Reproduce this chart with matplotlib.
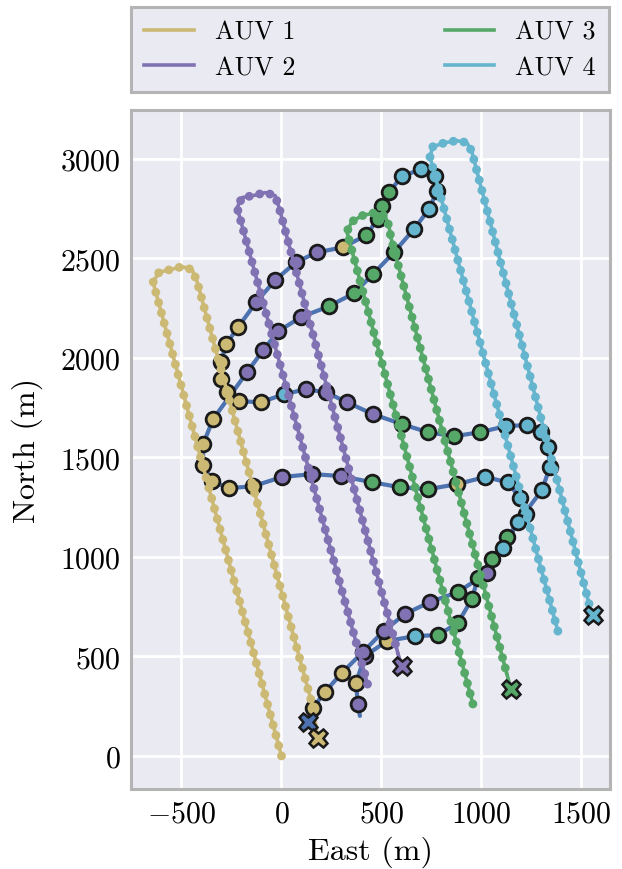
import matplotlib
matplotlib.use("Agg")
import matplotlib.pyplot as plt
from matplotlib.lines import Line2D

plt.rcParams["font.family"] = "serif"
plt.rcParams["font.serif"] = ["cmr10"]
plt.rcParams["mathtext.fontset"] = "cm"
plt.rcParams["axes.formatter.use_mathtext"] = True

# seaborn "deep" colours
BG = "#EAEAF2"
EDGE = "#B4B4B4"
SHIP = "#4C72B0"
auv_colors = ["#CCB974", "#8172B3", "#55A868", "#64B5CD"]
auv_names = ["AUV 1", "AUV 2", "AUV 3", "AUV 4"]

# AUV tracks (east, north in m): up leg, turn, down leg
auv1_e = [0, -642, -612, -557, -497, -447, -422, 157]
auv1_n = [0, 2380, 2430, 2443, 2458, 2443, 2383, 246]
auv2_e = [430, -222, -197, -142, -82, -32, -12, 583]
auv2_n = [361, 2755, 2805, 2815, 2830, 2815, 2755, 512]
auv3_e = [957, 327, 352, 402, 467, 517, 537, 547, 1127]
auv3_n = [261, 2634, 2684, 2714, 2729, 2714, 2664, 2604, 411]
auv4_e = [1382, 742, 757, 817, 877, 927, 952, 962, 1542]
auv4_n = [627, 3011, 3061, 3081, 3091, 3081, 3036, 2996, 748]
tracks_e = [auv1_e, auv2_e, auv3_e, auv4_e]
tracks_n = [auv1_n, auv2_n, auv3_n, auv4_n]

# final AUV positions
end_e = [182, 602, 1147, 1557]
end_n = [90, 452, 336, 708]

# surface vessel route; ping = AUV heard at that point (0 = none)
ship_e = [392, 382, 372, 417, 527, 667, 782, 882, 952, 982, 1052, 1127, 1222,
          1192, 1132, 1017, 877, 732, 592, 452, 297, 152, 2, -142, -262, -347,
          -392, -392, -342, -172, -92, -17, 97, 237, 362, 457, 562, 662, 737,
          777, 767, 697, 602, 537, 502, 482, 422, 307, 177, 72, -32, -127,
          -217, -277, -302, -302, -272, -212, -102, 12, 122, 222, 327, 457,
          602, 732, 862, 992, 1122, 1227, 1297, 1332, 1342, 1302, 1182, 1107,
          1027, 882, 742, 617, 512, 407, 302, 217, 157, 132]
ship_n = [201, 261, 366, 502, 577, 602, 607, 668, 788, 894, 989, 1099, 1215,
          1295, 1375, 1401, 1365, 1340, 1350, 1375, 1406, 1416, 1401, 1355,
          1345, 1380, 1461, 1566, 1692, 1928, 2038, 2133, 2204, 2259, 2324,
          2420, 2530, 2646, 2746, 2836, 2912, 2947, 2912, 2831, 2761, 2696,
          2615, 2555, 2530, 2480, 2390, 2279, 2154, 2068, 1978, 1893, 1827,
          1782, 1777, 1817, 1842, 1827, 1777, 1717, 1667, 1626, 1606, 1626,
          1657, 1662, 1626, 1551, 1451, 1335, 1175, 1044, 919, 823, 773, 713,
          628, 522, 417, 321, 241, 171]
ping = [0, 2, 1, 2, 1, 4, 3, 3, 3, 3, 3, 3, 4,
        4, 4, 4, 1, 3, 3, 3, 2, 2, 2, 1,
        1, 1, 1, 1, 1, 2, 2, 2, 2, 3, 3,
        3, 3, 4, 4, 4, 4, 4, 4, 3, 3, 3,
        3, 1, 2, 2, 2, 2, 1, 1, 1, 1, 1,
        1, 1, 4, 2, 2, 2, 2, 3, 3, 3, 3,
        4, 4, 4, 4, 4, 4, 4, 4, 2, 3, 2, 2,
        2, 2, 1, 1, 1, 0]

fig = plt.figure(figsize=(6.22 / 2, 8.70 / 2), dpi=200)
fig.patch.set_facecolor("white")
ax = fig.add_axes([0.2114, 0.0920, 0.7701, 0.7804])
ax.set_facecolor(BG)
ax.grid(True, color="white", lw=1.0, zorder=0)
ax.set_axisbelow(True)
for s in ax.spines.values():
    s.set_color(EDGE)
    s.set_linewidth(1.1)
ax.tick_params(length=0, labelsize=10.8, pad=4)

# vessel route with ping markers
ax.plot(ship_e, ship_n, color=SHIP, lw=1.5, zorder=2, solid_capstyle="round")
for e, n, k in zip(ship_e, ship_n, ping):
    if k:
        ax.plot(e, n, "o", ms=5.3, mfc=auv_colors[k - 1], mec="#1a1a1a",
                mew=1.0, zorder=3)
ax.plot(ship_e[-1], ship_n[-1], "X", ms=6.8, mfc=SHIP, mec="#1a1a1a",
        mew=0.9, zorder=5)

# AUV tracks drawn as beaded lines
for e, n, c, xe, xn in zip(tracks_e, tracks_n, auv_colors, end_e, end_n):
    ax.plot(e, n, color=c, lw=1.3, zorder=4, solid_capstyle="round")
    ax.plot(e, n, color=c, lw=3.2, linestyle=(0, (0.001, 1.2)),
            dash_capstyle="round", zorder=4)
    ax.plot([e[-1], xe], [n[-1], xn], color=c, lw=1.3, zorder=4)
    ax.plot(xe, xn, "X", ms=6.8, mfc=c, mec="#1a1a1a", mew=0.9, zorder=5)

ax.set_xlim(-750, 1645)
ax.set_ylim(-166, 3245)
ax.set_xticks([-500, 0, 500, 1000, 1500])
ax.set_yticks([0, 500, 1000, 1500, 2000, 2500, 3000])
ax.set_xlabel("East (m)", fontsize=11.5, labelpad=3)
ax.set_ylabel("North (m)", fontsize=11.5, labelpad=6)

handles = [Line2D([], [], color=c, lw=1.3) for c in auv_colors]
leg = fig.legend(handles, auv_names, ncol=2, mode="expand", loc="upper left",
                 bbox_to_anchor=(0.2106, 0.9908 - 0.1, 0.7685, 0.1),
                 borderaxespad=0, fontsize=9.4, handlelength=1.9,
                 handletextpad=0.8, labelspacing=0.45, borderpad=0.5,
                 fancybox=False, framealpha=1)
leg.get_frame().set_facecolor(BG)
leg.get_frame().set_edgecolor(EDGE)
leg.get_frame().set_linewidth(1.1)

fig.savefig("out.png", dpi=200)
